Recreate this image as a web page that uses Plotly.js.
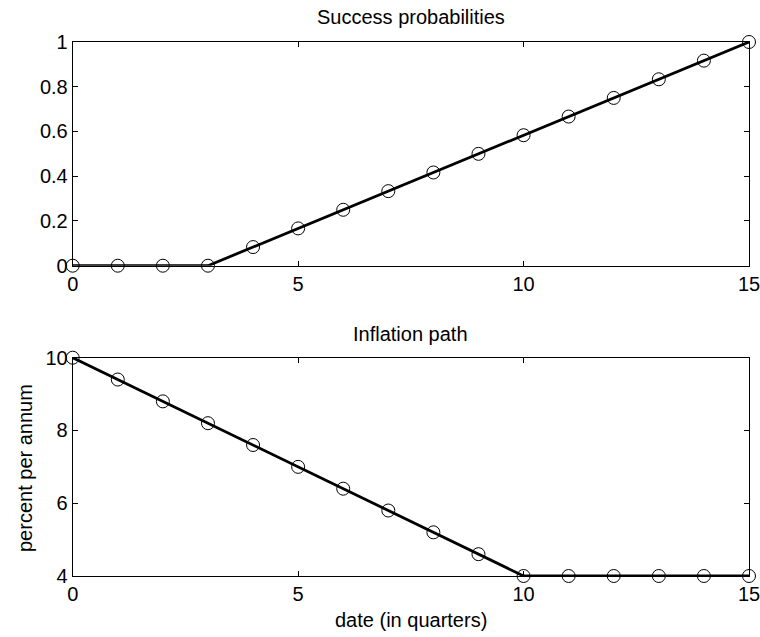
<!DOCTYPE html>
<html>
<head>
<meta charset="utf-8">
<script src="https://cdn.plot.ly/plotly-3.0.1.min.js"></script>
<style>html,body{margin:0;padding:0;background:#fff;}#chart{width:760px;height:637px;}</style>
</head>
<body>
<div id="chart"></div>
<script>
const quarters = [0,1,2,3,4,5,6,7,8,9,10,11,12,13,14,15];
const successProb = [0,0,0,0,0.0833,0.1667,0.25,0.3333,0.4167,0.5,0.5833,0.6667,0.75,0.8333,0.9167,1];
const inflation = [10,9.4,8.8,8.2,7.6,7.0,6.4,5.8,5.2,4.6,4,4,4,4,4,4];
const xTicks = [0,5,10,15];
const topYTicks = [0,0.2,0.4,0.6,0.8,1];
const topYLabels = ['0','0.2','0.4','0.6','0.8','1'];
const botYTicks = [4,6,8,10];

const font = {family: 'Liberation Sans, Arial, sans-serif', size: 20, color: '#000'};
const markerStyle = {symbol: 'circle-open', size: 13, color: '#000', line: {width: 1, color: '#000'}};

const traces = [
  {x: quarters, y: successProb, mode: 'lines+markers', xaxis: 'x', yaxis: 'y',
   line: {color: '#000', width: 2.8}, marker: markerStyle, cliponaxis: false, hoverinfo: 'none'},
  {x: quarters, y: inflation, mode: 'lines+markers', xaxis: 'x2', yaxis: 'y2',
   line: {color: '#000', width: 2.8}, marker: markerStyle, cliponaxis: false, hoverinfo: 'none'}
];

const axCommon = {
  showline: true, linecolor: '#000', linewidth: 1, mirror: 'ticks',
  ticks: 'inside', ticklen: 5, tickwidth: 1, tickcolor: '#000',
  showgrid: false, zeroline: false, tickfont: font, fixedrange: true,
  ticklabeloverflow: 'allow', ticklabelstandoff: 0
};

const xd = [72.7/760, 749/760];
const layout = {
  width: 760, height: 637,
  margin: {l: 0, r: 0, t: 0, b: 0},
  paper_bgcolor: '#fff', plot_bgcolor: '#fff',
  showlegend: false,
  font: font,
  xaxis: Object.assign({}, axCommon, {domain: xd, range: [0, 15], tickvals: xTicks, ticktext: xTicks.map(String), anchor: 'y'}),
  yaxis: Object.assign({}, axCommon, {domain: [(637-265.7)/637, (637-42)/637], range: [0, 1], tickvals: topYTicks, ticktext: topYLabels, anchor: 'x'}),
  xaxis2: Object.assign({}, axCommon, {domain: xd, range: [0, 15], tickvals: xTicks, ticktext: xTicks.map(String), anchor: 'y2'}),
  yaxis2: Object.assign({}, axCommon, {domain: [(637-576)/637, (637-357.7)/637], range: [4, 10], tickvals: botYTicks, ticktext: botYTicks.map(String), anchor: 'x2'}),
  annotations: [
    {text: 'Success probabilities', x: 411/760, y: 1 - 17/637, xref: 'paper', yref: 'paper', showarrow: false, xanchor: 'center', yanchor: 'middle', font: font},
    {text: 'Inflation path', x: 411/760, y: 1 - 334/637, xref: 'paper', yref: 'paper', showarrow: false, xanchor: 'center', yanchor: 'middle', font: font},
    {text: 'date (in quarters)', x: 411/760, y: 1 - 620/637, xref: 'paper', yref: 'paper', showarrow: false, xanchor: 'center', yanchor: 'middle', font: font},
    {text: 'percent per annum', x: 25/760, y: 1 - 468/637, xref: 'paper', yref: 'paper', showarrow: false, xanchor: 'center', yanchor: 'middle', textangle: -90, font: font}
  ]
};

Plotly.newPlot('chart', traces, layout, {staticPlot: true, displayModeBar: false});
</script>
</body>
</html>
